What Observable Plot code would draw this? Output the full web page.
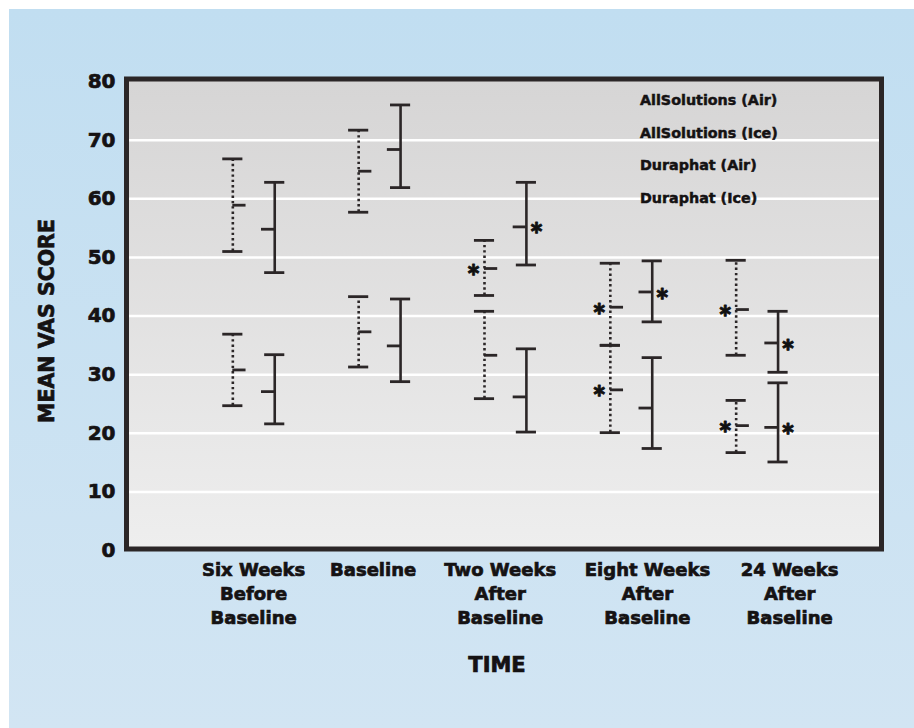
<!DOCTYPE html>
<html>
<head>
<meta charset="utf-8">
<script src="https://cdn.jsdelivr.net/npm/d3@7"></script>
<script src="https://cdn.jsdelivr.net/npm/@observablehq/plot@0.6"></script>
<style>
  html, body { margin: 0; padding: 0; background: #ffffff; }
  #page { position: relative; width: 914px; height: 728px; overflow: hidden; }
  #panel { position: absolute; left: 9px; top: 9px; width: 905px; height: 719px;
           background: linear-gradient(to bottom, #c1def1, #d2e5f3); }
  #chart { position: absolute; left: 0; top: 0; }
  #legend { position: absolute; left: 640px; top: 84px; font-family: "DejaVu Sans", sans-serif;
            font-weight: bold; font-size: 14.3px; color: #151213; line-height: 32.5px;
            -webkit-text-stroke: 0.5px #151213; }
  svg text.heavy, svg .heavy text { stroke: #151213; stroke-width: 0.7px; paint-order: stroke; }
</style>
</head>
<body>
<div id="page">
  <div id="panel"></div>
  <div id="chart"></div>
  <div id="legend"></div>
</div>
<script>
// ---- data ----
const timeLabels = ["Six Weeks\nBefore\nBaseline", "Baseline", "Two Weeks\nAfter\nBaseline", "Eight Weeks\nAfter\nBaseline", "24 Weeks\nAfter\nBaseline"];
const timeIndex = [1, 2, 3, 4, 5];
const labelPos = [1.01, 1.96, 2.97, 4.14, 5.27];
const seriesNames = ["AllSolutions (Air)", "AllSolutions (Ice)", "Duraphat (Air)", "Duraphat (Ice)"];
const yTicks = [0, 10, 20, 30, 40, 50, 60, 70, 80];
const gridValues = [10, 20, 30, 40, 50, 60, 70];

const allAirMean = [58.9, 64.7, 48.1, 41.5, 41.1];
const allAirLo   = [51.0, 57.7, 43.5, 35.0, 33.3];
const allAirHi   = [66.8, 71.7, 52.9, 49.0, 49.5];
const allAirSig  = [0, 0, 1, 1, 1];

const allIceMean = [54.8, 68.4, 55.2, 44.1, 35.4];
const allIceLo   = [47.4, 61.9, 48.7, 39.0, 30.4];
const allIceHi   = [62.8, 76.0, 62.8, 49.4, 40.8];
const allIceSig  = [0, 0, 1, 1, 1];

const durAirMean = [30.8, 37.3, 33.3, 27.4, 21.3];
const durAirLo   = [24.7, 31.3, 25.9, 20.1, 16.7];
const durAirHi   = [36.9, 43.3, 40.8, 35.0, 25.6];
const durAirSig  = [0, 0, 0, 1, 1];

const durIceMean = [27.1, 34.9, 26.2, 24.3, 21.0];
const durIceLo   = [21.6, 28.8, 20.2, 17.4, 15.1];
const durIceHi   = [33.4, 42.9, 34.4, 32.9, 28.6];
const durIceSig  = [0, 0, 0, 0, 1];

// ---- build rows ----
const series = [
  {name: seriesNames[0], air: true,  mean: allAirMean, lo: allAirLo, hi: allAirHi, sig: allAirSig},
  {name: seriesNames[1], air: false, mean: allIceMean, lo: allIceLo, hi: allIceHi, sig: allIceSig},
  {name: seriesNames[2], air: true,  mean: durAirMean, lo: durAirLo, hi: durAirHi, sig: durAirSig},
  {name: seriesNames[3], air: false, mean: durIceMean, lo: durIceLo, hi: durIceHi, sig: durIceSig}
];
const AIR_OFF = -0.155, ICE_OFF = 0.178, CAP = 0.08, MEAN_T = 0.105;
const rows = [];
for (const s of series) {
  timeIndex.forEach((t, i) => {
    rows.push({series: s.name, air: s.air, x: t + (s.air ? AIR_OFF : ICE_OFF),
               mean: s.mean[i], lo: s.lo[i], hi: s.hi[i], sig: s.sig[i]});
  });
}
const airRows = rows.filter(d => d.air);
const iceRows = rows.filter(d => !d.air);

const INK = "#2b2627";
const FONT = "'DejaVu Sans', sans-serif";
const STAR_FONT = "Lato, sans-serif";

const plot = Plot.plot({
  width: 914,
  height: 728,
  marginLeft: 126,
  marginRight: 33,
  marginTop: 81,
  marginBottom: 178,
  style: {background: "transparent", fontFamily: FONT, color: "#151213"},
  x: {domain: [0, 6], axis: null},
  y: {domain: [0, 80], axis: null},
  marks: [
    Plot.frame({fill: "url(#plotbg)", insetTop: -2.5, insetBottom: 1.5}),
    Plot.ruleY(gridValues, {stroke: "#ffffff", strokeWidth: 2.5}),
    // vertical bars
    Plot.ruleX(airRows, {x: "x", y1: "lo", y2: "hi", stroke: INK, strokeWidth: 2.6, strokeDasharray: "2.4,2.9"}),
    Plot.ruleX(iceRows, {x: "x", y1: "lo", y2: "hi", stroke: INK, strokeWidth: 2.6}),
    // caps
    Plot.ruleY(rows, {y: "hi", x1: d => d.x - CAP, x2: d => d.x + CAP, stroke: INK, strokeWidth: 2.8}),
    Plot.ruleY(rows, {y: "lo", x1: d => d.x - CAP, x2: d => d.x + CAP, stroke: INK, strokeWidth: 2.8}),
    // mean ticks
    Plot.ruleY(airRows, {y: "mean", x1: "x", x2: d => d.x + MEAN_T, stroke: INK, strokeWidth: 2.8}),
    Plot.ruleY(iceRows, {y: "mean", x1: d => d.x - MEAN_T, x2: "x", stroke: INK, strokeWidth: 2.8}),
    // significance asterisks
    Plot.text(airRows.filter(d => d.sig), {x: "x", y: "mean", text: () => "*", dx: -11, dy: 9, fontSize: 33, fontWeight: 900, fontFamily: STAR_FONT, fill: "#111", stroke: "#111", strokeWidth: 0.8}),
    Plot.text(iceRows.filter(d => d.sig), {x: "x", y: "mean", text: () => "*", dx: 10, dy: 9, fontSize: 33, fontWeight: 900, fontFamily: STAR_FONT, fill: "#111", stroke: "#111", strokeWidth: 0.8}),
    Plot.frame({stroke: INK, strokeWidth: 5, insetTop: -2.5, insetBottom: 1.5}),
    // y axis
    Plot.axisY({ticks: yTicks, tickSize: 0, tickPadding: 11, fontSize: 20, fontWeight: "bold", label: null, className: "heavy"}),
    Plot.text(["MEAN VAS SCORE"], {frameAnchor: "left", textAnchor: "middle", rotate: -90, dx: -79, dy: 5, fontSize: 20.5, fontWeight: "bold", className: "heavy"}),
    // x labels
    Plot.text(labelPos, {x: d => d, text: (d, i) => timeLabels[i], frameAnchor: "bottom", lineAnchor: "top", dy: 9, lineHeight: 1.32, fontSize: 18, fontWeight: "bold", className: "heavy"}),
    Plot.text(["TIME"], {frameAnchor: "bottom", lineAnchor: "top", dx: -7, dy: 107, fontSize: 21, fontWeight: "bold", className: "heavy"})
  ]
});

plot.insertAdjacentHTML("afterbegin",
  '<defs><linearGradient id="plotbg" x1="0" y1="0" x2="0" y2="1">' +
  '<stop offset="0" stop-color="#d6d5d5"/><stop offset="1" stop-color="#eeeeee"/></linearGradient></defs>');
document.getElementById("chart").appendChild(plot);

document.getElementById("legend").innerHTML = seriesNames.map(n => `<div>${n}</div>`).join("");
</script>
</body>
</html>
